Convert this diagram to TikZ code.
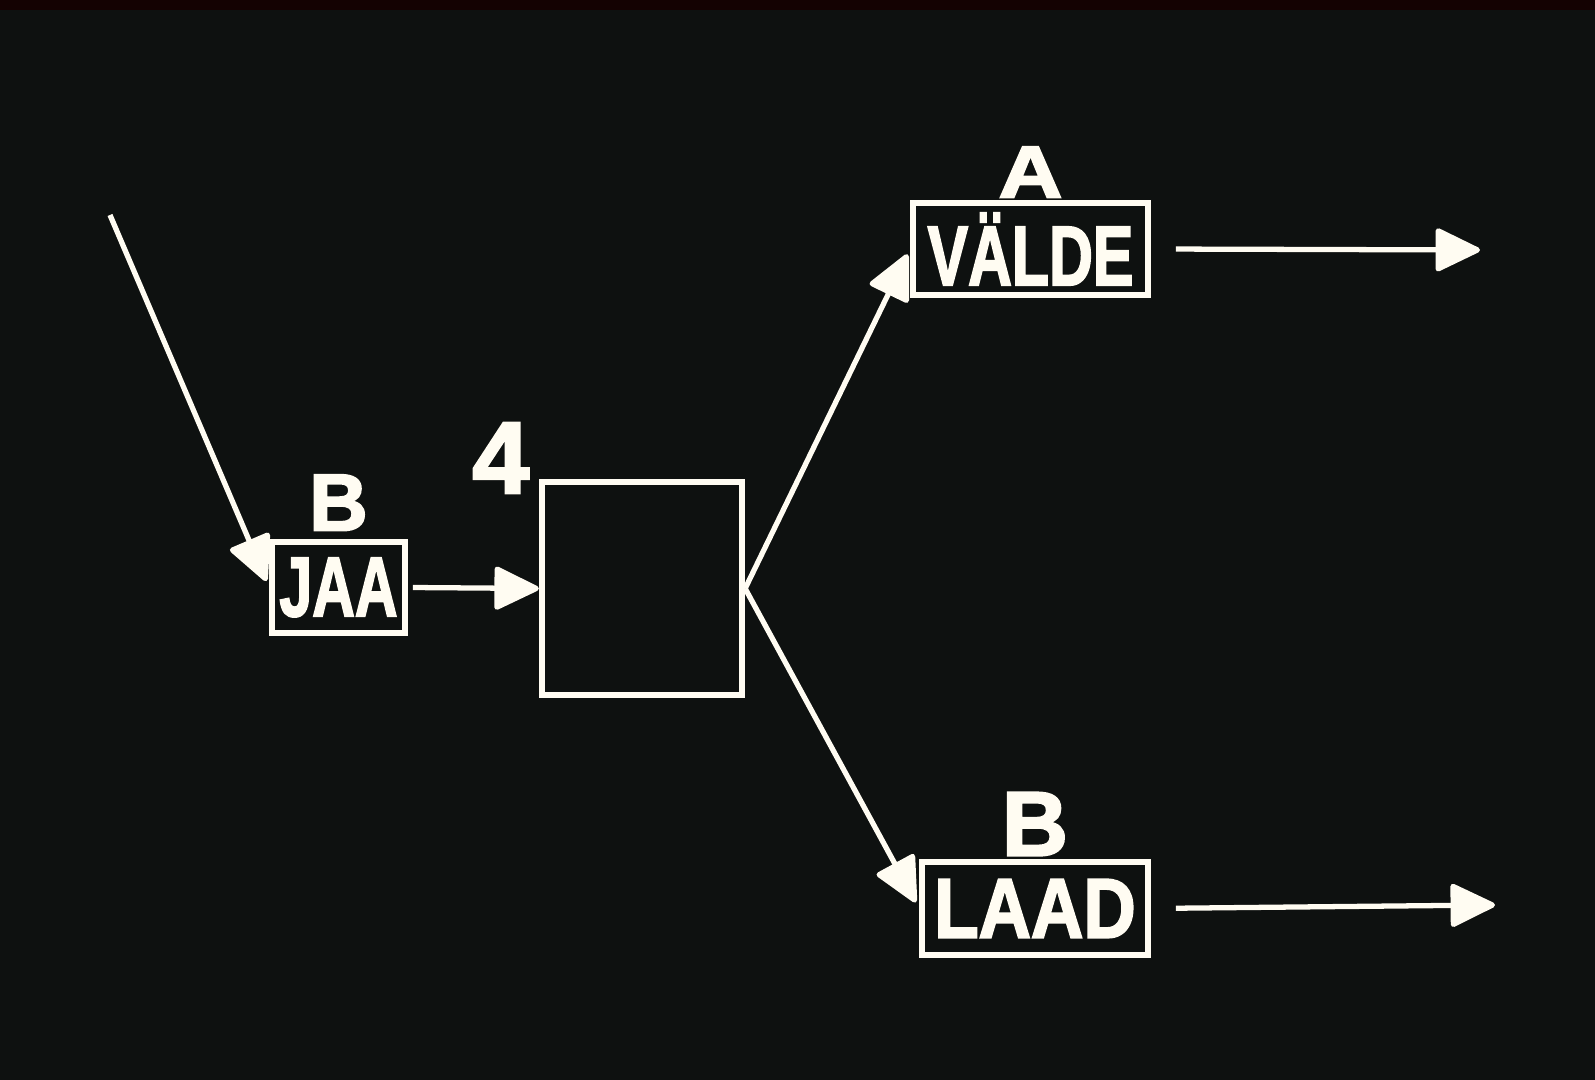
\documentclass[tikz,border=0pt]{standalone}
\usepackage{fontspec}
\setmainfont{Liberation Sans}
\newfontfamily\handfont[FakeBold=2.5]{Liberation Sans Bold}
\usetikzlibrary{positioning,arrows.meta}
\definecolor{slide}{RGB}{14,17,16}
\definecolor{chalk}{RGB}{255,252,242}
\definecolor{rim}{RGB}{20,2,2}
\tikzset{
	wordbox/.style = {shape=rectangle, draw=chalk, line width=1.6pt,
		inner sep=0pt, text=chalk, font=\handfont\fontsize{24}{24}\selectfont},
	tag/.style     = {inner sep=0pt, text=chalk},
	flow/.style    = {draw=chalk, line width=1.5pt,
		-{Triangle[length=4.8mm,width=4.5mm,round]}}
}
\newcommand{\narrow}[2]{\scalebox{#1}[1]{#2}}

\begin{document}
\begin{tikzpicture}
[
every node/.style = {font=\handfont}
]
\fill[slide] (0,0) rectangle (15.95,10.80);
\fill[rim] (0,10.70) rectangle (15.95,10.80);
% boxes
\node [wordbox, minimum width=1.33cm, minimum height=0.91cm] (jaa) at (3.385,4.925) {\narrow{0.70}{JAA}};
\node [wordbox, line width=1.8pt, minimum width=2.0cm, minimum height=2.13cm] (big) at (6.42,4.915) {};
\node [wordbox, minimum width=2.35cm, minimum height=0.92cm] (valde) at (10.305,8.31) {\narrow{0.72}{VÄLDE}};
\node [wordbox, minimum width=2.26cm, minimum height=0.93cm] (laad) at (10.35,1.715) {\narrow{0.86}{LAAD}};
% letters over the boxes
\node [tag, font=\handfont\fontsize{23}{23}\selectfont, above=0.08cm of jaa] (jaatag) {B};
\node [tag, font=\handfont\fontsize{29}{29}\selectfont, anchor=south east] (four) at ([shift={(-0.09,-0.15)}]big.north west) {4};
\node [tag, font=\handfont\fontsize{21}{21}\selectfont, above=0.02cm of valde] (valdetag) {\scalebox{1.2}[1]{A}};
\node [tag, font=\handfont\fontsize{26}{26}\selectfont, above=0.03cm of laad] (laadtag) {B};
% free ends
\coordinate (in) at (1.10,8.65);
\coordinate (outA) at (14.80,8.30);
\coordinate (outB) at (14.95,1.75);
% connectors
\draw [flow, shorten >=0.07cm] (in) -- (jaa.west);
\draw [flow, shorten <=0.05cm] (jaa.east) -- (big.west);
\draw [flow, shorten >=0.06cm] (big.east) -- (valde.west);
\draw [flow, shorten >=0.07cm] (big.east) -- (laad.west);
\draw [flow, shorten <=0.25cm] (valde.east) -- (outA);
\draw [flow, shorten <=0.25cm] (laad.east) -- (outB);
\end{tikzpicture}
\end{document}
